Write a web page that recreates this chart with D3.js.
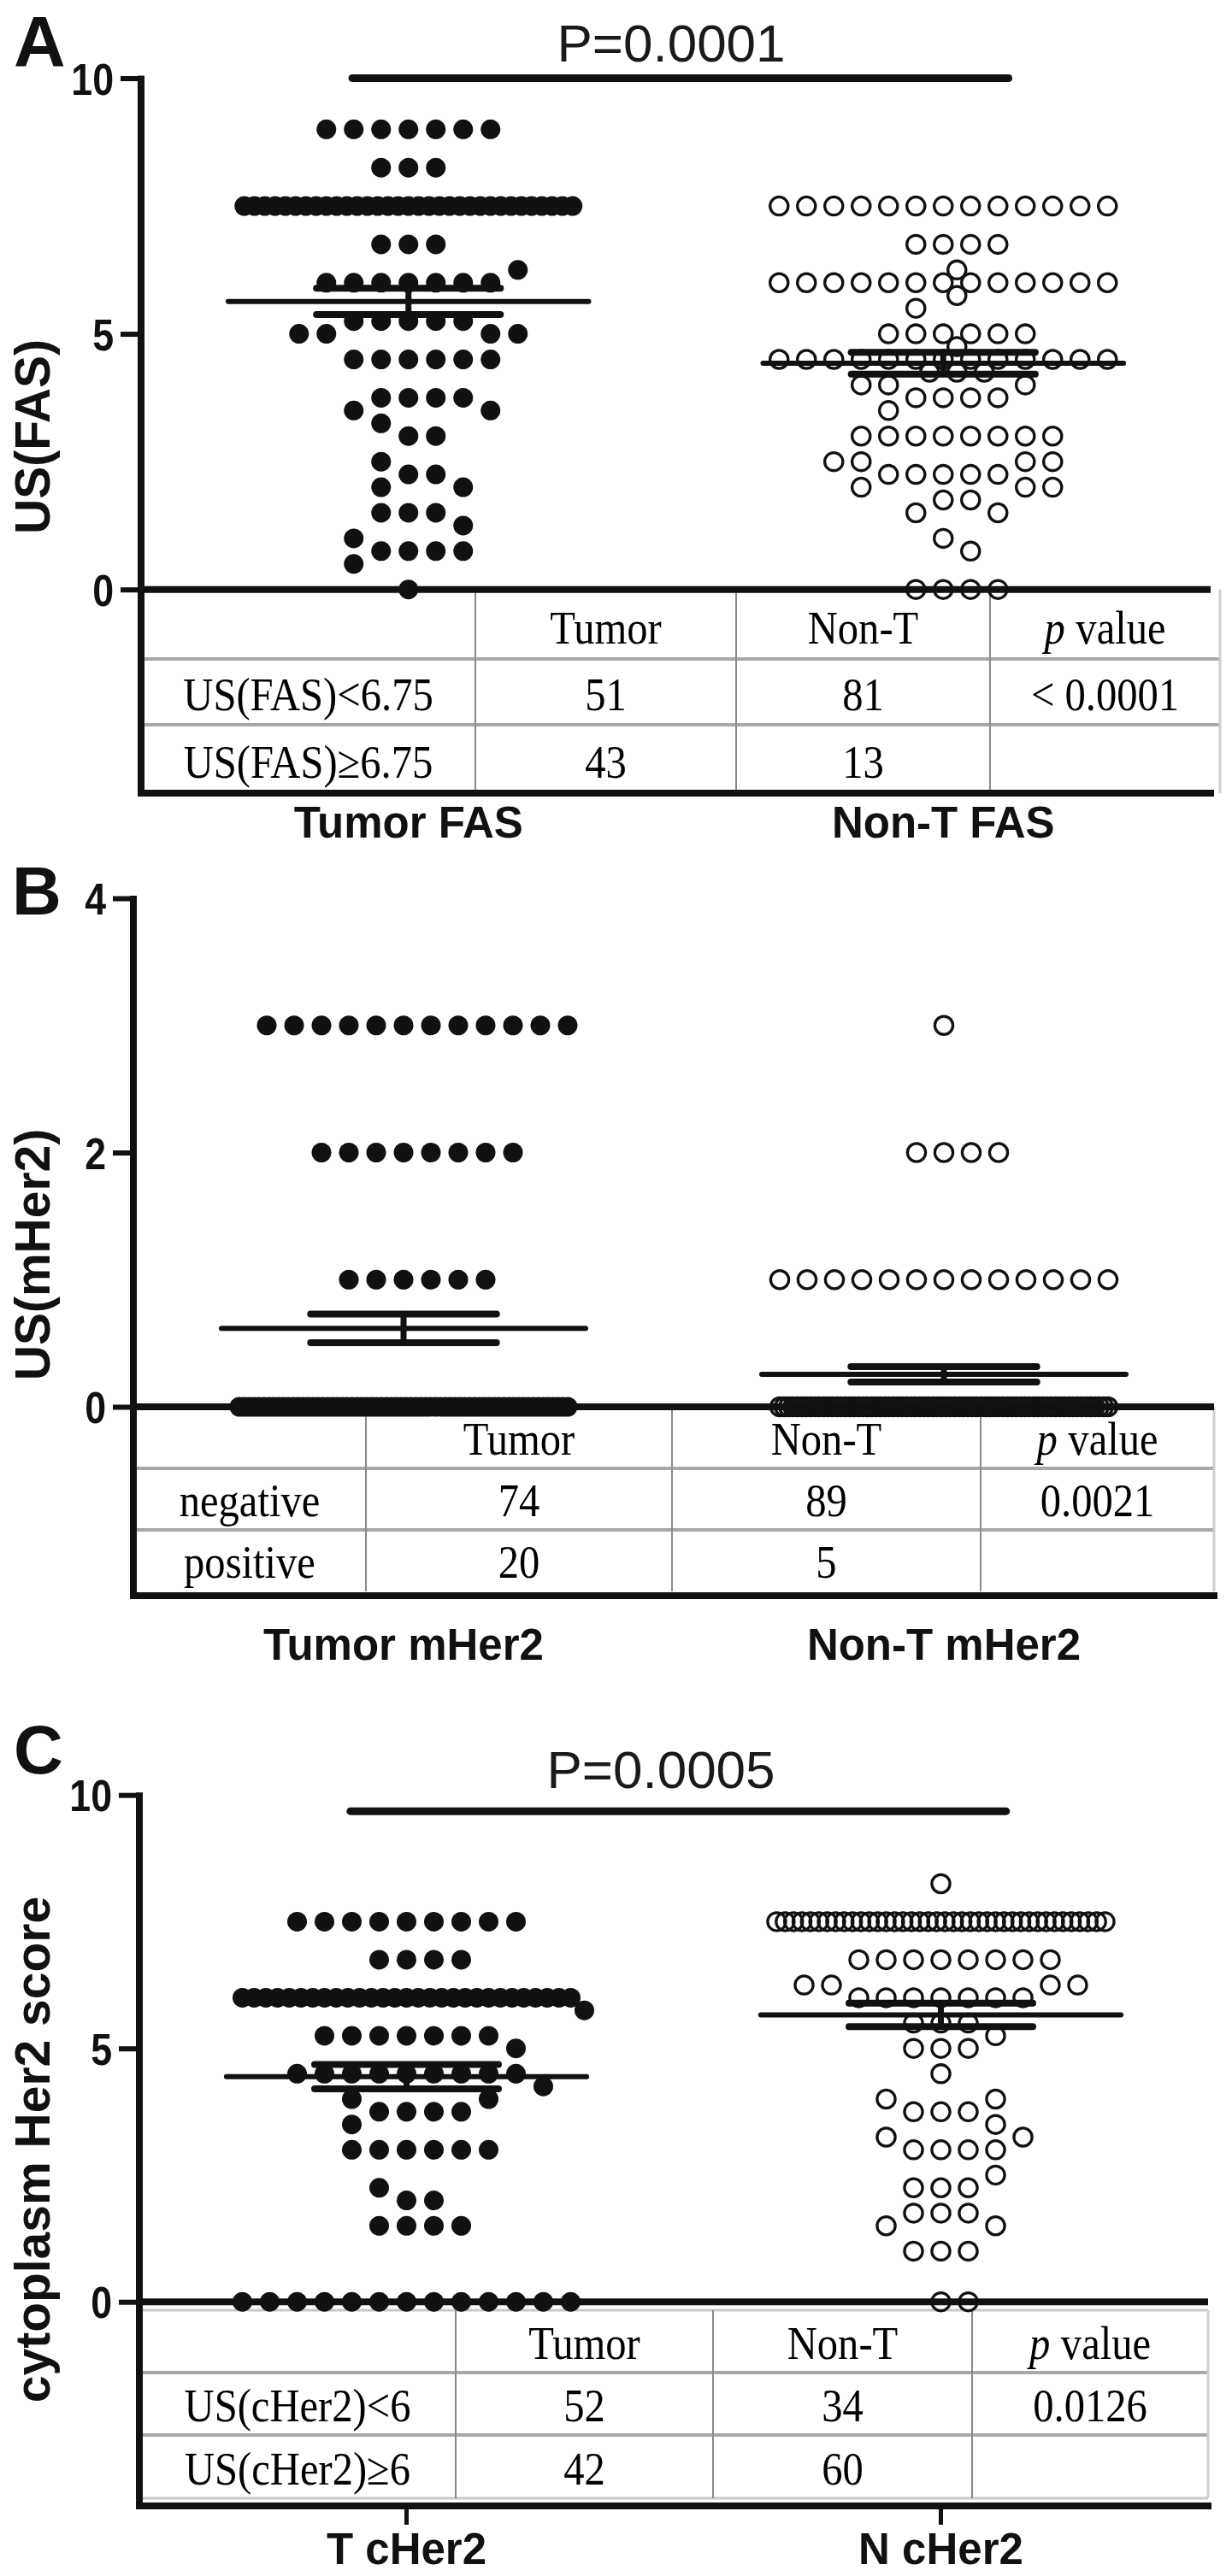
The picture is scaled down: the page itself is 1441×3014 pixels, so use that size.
<!DOCTYPE html>
<html><head><meta charset="utf-8">
<script src="https://cdn.jsdelivr.net/npm/d3@7"></script>
<style>html,body{margin:0;padding:0;background:#fff}svg{display:block}</style>
</head><body>
<svg id="chart" width="1441" height="3014"></svg>
<script>
// ---------------- DATA (value, number of samples with that value) ----------------
const categoriesA = ["Tumor FAS", "Non-T FAS"];
const tumorFAS = [[9,7],[8.25,3],[7.5,33],[6.75,3],[6.25,1],[6,7],[5.25,5],[5,4],[4.5,6],[3.75,4],[3.5,2],[3.25,1],[3,2],[2.5,1],[2.25,2],[2,2],[1.5,3],[1.25,1],[1,1],[0.75,4],[0.5,1],[0,1]];
const nonTFAS = [[7.5,13],[6.75,4],[6.25,1],[6,13],[5.75,1],[5.5,1],[5,6],[4.75,1],[4.5,13],[4.25,3],[4,3],[3.75,4],[3.5,1],[3,8],[2.5,4],[2.25,5],[2,3],[1.75,2],[1.5,2],[1,1],[0.75,1],[0,4]];
const ticksA = [0, 5, 10];
const headerA = ["", "Tumor", "Non-T", "p value"];
const rowsA = [["US(FAS)<6.75", "51", "81", "< 0.0001"], ["US(FAS)\u22656.75", "43", "13", ""]];

const categoriesB = ["Tumor mHer2", "Non-T mHer2"];
const tumorMHer2 = [[3,12],[2,8],[1,6],[0,68]];
const nonTMHer2 = [[3,1],[2,4],[1,13],[0,76]];
const ticksB = [0, 2, 4];
const headerB = ["", "Tumor", "Non-T", "p value"];
const rowsB = [["negative", "74", "89", "0.0021"], ["positive", "20", "5", ""]];

const categoriesC = ["T cHer2", "N cHer2"];
const tumorCHer2 = [[7.5,9],[6.75,4],[6,29],[5.75,1],[5.25,7],[5,1],[4.5,9],[4.25,1],[4,2],[3.75,4],[3.5,1],[3,6],[2.25,1],[2,2],[1.5,4],[0,13]];
const nonTCHer2 = [[8.25,1],[7.5,40],[6.75,8],[6.25,4],[6,7],[5.5,3],[5.25,1],[5,3],[4.5,1],[4,2],[3.75,3],[3.5,1],[3.25,2],[3,4],[2.5,1],[2.25,3],[1.75,3],[1.5,2],[1,3],[0,2]];
const ticksC = [0, 5, 10];
const headerC = ["", "Tumor", "Non-T", "p value"];
const rowsC = [["US(cHer2)<6", "52", "34", "0.0126"], ["US(cHer2)\u22656", "42", "60", ""]];

const pValueA = "P=0.0001", sigLevelA = 10;
const pValueC = "P=0.0005", sigLevelC = 9.68;

// ---------------- LAYOUT ----------------
const panels = [
  {letter:"A", letterX:16, letterY:78, letterSize:84, yDomain:[0,10], yRange:[689.7,91.5], ticks:ticksA,
   axisX:165, axisRight:1416, cats:categoriesA, groups:[tumorFAS,nonTFAS], yTitle:"US(FAS)", yTitleY:511,
   rowsY:[689.7,771,848,928], colsX:[165,556,861,1158,1427], header:headerA, body:rowsA, tableTop:false,
   bottom:928, xLabelY:980, xTicks:false, sig:{v:sigLevelA, text:pValueA, textX:785, textY:72}},
  {letter:"B", letterX:14, letterY:1070, letterSize:80, yDomain:[0,4], yRange:[1646,1051], ticks:ticksB,
   axisX:156, axisRight:1420, cats:categoriesB, groups:[tumorMHer2,nonTMHer2], yTitle:"US(mHer2)", yTitleY:1468,
   rowsY:[1646,1718,1790,1862], colsX:[156,428,786,1147,1420], header:headerB, body:rowsB, tableTop:false,
   bottom:1867, xLabelY:1942, xTicks:false, sig:null},
  {letter:"C", letterX:16, letterY:2075, letterSize:80, yDomain:[0,10], yRange:[2693.2,2100.2], ticks:ticksC,
   axisX:163, axisRight:1413, cats:categoriesC, groups:[tumorCHer2,nonTCHer2], yTitle:"cytoplasm Her2 score", yTitleY:2515,
   rowsY:[2703,2776,2849,2923], colsX:[163,533,834,1137,1413], header:headerC, body:rowsC, tableTop:true,
   bottom:2932, xLabelY:3000, xTicks:true, sig:{v:sigLevelC, text:pValueC, textX:773, textY:2092}}
];

const SANS = "'Liberation Sans', Arial, Helvetica, sans-serif";
const SERIF = "'Liberation Serif', 'Times New Roman', Times, serif";
const INK = "#111";

// beeswarm-like layout: rows of equal values, spread horizontally on a slot grid
function swarm(freq, cx, y) {
  const s = 32, maxSlots = 6, thr = 25.5;
  const rows = freq.map(([v, n]) => ({v, n})).sort((a, b) => b.n - a.n || b.v - a.v);
  const placed = [];
  const minDist = (x, py) => {
    let m = Infinity;
    for (const q of placed) { const d = Math.hypot(q.x - x, q.y - py); if (d < m) m = d; }
    return m;
  };
  for (const r of rows) {
    const py = y(r.v);
    if (r.n > 2 * maxSlots + 1) {
      const w = 2 * maxSlots * s, step = w / (r.n - 1);
      for (let i = 0; i < r.n; i++) placed.push({v: r.v, x: cx - w / 2 + i * step, y: py});
      continue;
    }
    const order = [0];
    for (let k = 1; k <= maxSlots; k++) order.push(k, -k);
    for (let i = 0; i < r.n; i++) {
      let best = null;
      for (const k of order) {
        const x = cx + k * s;
        if (minDist(x, py) >= thr) { best = x; break; }
      }
      if (best === null) {
        let bestD = -1;
        for (let k = 0; k <= 2 * maxSlots + 1; k++) {
          for (const sg of (k ? [1, -1] : [1])) {
            const x = cx + sg * k * s / 2;
            const d = minDist(x, py);
            if (d > bestD + 0.01) { bestD = d; best = x; }
          }
        }
      }
      placed.push({v: r.v, x: best, y: py});
    }
  }
  return placed;
}

const svg = d3.select("#chart");
svg.append("rect").attr("width", 1441).attr("height", 3014).attr("fill", "#fff");

panels.forEach(p => {
  const g = svg.append("g");
  const y = d3.scaleLinear().domain(p.yDomain).range(p.yRange);
  const x = d3.scalePoint().domain(p.cats).range([p.axisX, p.axisRight]).padding(0.5);
  const step = x.step();

  // ---- table ----
  const tb = g.append("g");
  const top = p.rowsY[0], bot = p.rowsY[p.rowsY.length - 1];
  if (p.tableTop) tb.append("line").attr("x1", p.axisX).attr("x2", p.colsX[4]).attr("y1", top).attr("y2", top)
      .attr("stroke", "#c8c8c8").attr("stroke-width", 3);
  [p.rowsY[1], p.rowsY[2]].forEach(ry => {
    tb.append("line").attr("x1", p.axisX).attr("x2", p.colsX[4]).attr("y1", ry).attr("y2", ry)
      .attr("stroke", "#a8a8a8").attr("stroke-width", 4);
  });
  if (p.tableTop) tb.append("line").attr("x1", p.axisX).attr("x2", p.colsX[4]).attr("y1", bot).attr("y2", bot)
      .attr("stroke", "#c8c8c8").attr("stroke-width", 3);
  p.colsX.slice(1, 4).forEach(cx => {
    tb.append("line").attr("x1", cx).attr("x2", cx).attr("y1", top).attr("y2", bot)
      .attr("stroke", "#8a8a8a").attr("stroke-width", 2);
  });
  tb.append("line").attr("x1", p.colsX[4]).attr("x2", p.colsX[4]).attr("y1", top).attr("y2", bot)
    .attr("stroke", "#cfcfcf").attr("stroke-width", 3);

  const allRows = [p.header].concat(p.body);
  allRows.forEach((row, ri) => {
    const y0 = p.rowsY[ri], y1 = p.rowsY[ri + 1];
    const by = y0 + 0.78 * (y1 - y0);
    row.forEach((txt, ci) => {
      if (!txt) return;
      const cx = (p.colsX[ci] + p.colsX[ci + 1]) / 2;
      const t = tb.append("text").attr("transform", `translate(${cx},${by}) scale(0.9,1)`)
        .attr("text-anchor", "middle").attr("font-family", SERIF).attr("font-size", 54).attr("fill", "#000");
      if (txt === "p value") {
        t.append("tspan").attr("font-style", "italic").text("p");
        t.append("tspan").attr("dx", 14).text("value");
      } else t.text(txt);
    });
  });

  // ---- axes ----
  g.append("line").attr("x1", p.axisX).attr("x2", p.axisX).attr("y1", y(p.yDomain[1]) - 3).attr("y2", p.bottom + 4)
    .attr("stroke", INK).attr("stroke-width", 8);
  g.append("line").attr("x1", p.axisX).attr("x2", p.axisRight).attr("y1", y(0)).attr("y2", y(0))
    .attr("stroke", INK).attr("stroke-width", 8);
  g.append("line").attr("x1", p.axisX).attr("x2", p.axisRight + 4).attr("y1", p.bottom).attr("y2", p.bottom)
    .attr("stroke", INK).attr("stroke-width", 8);

  const ya = g.append("g").attr("transform", `translate(${p.axisX},0)`)
    .call(d3.axisLeft(y).tickValues(p.ticks).tickSize(24).tickPadding(6).tickFormat(d3.format("d")));
  ya.select(".domain").remove();
  ya.selectAll(".tick line").attr("stroke", INK).attr("stroke-width", 6);
  ya.selectAll(".tick text").attr("fill", INK).attr("font-family", SANS).attr("font-weight", "bold")
    .attr("font-size", 52).attr("x", -32 / 0.86).attr("dy", "0.36em").attr("transform", "scale(0.86,1)");

  if (p.xTicks) {
    p.cats.forEach(c => g.append("line").attr("x1", x(c)).attr("x2", x(c)).attr("y1", p.bottom).attr("y2", p.bottom + 22)
      .attr("stroke", INK).attr("stroke-width", 5));
  }

  p.cats.forEach(c => g.append("text").attr("x", x(c)).attr("y", p.xLabelY).attr("text-anchor", "middle")
    .attr("font-family", SANS).attr("font-weight", "bold").attr("font-size", 51).attr("fill", INK).text(c));

  g.append("text").attr("transform", `translate(58,${p.yTitleY}) rotate(-90)`).attr("text-anchor", "middle")
    .attr("font-family", SANS).attr("font-weight", "bold").attr("font-size", 57).attr("fill", INK).text(p.yTitle);

  g.append("text").attr("x", p.letterX).attr("y", p.letterY).attr("font-family", SANS).attr("font-weight", "bold")
    .attr("font-size", p.letterSize).attr("fill", INK).text(p.letter);

  // ---- dots ----
  p.groups.forEach((freq, gi) => {
    const cx = x(p.cats[gi]);
    const pts = swarm(freq, cx, y);
    const sel = g.append("g").selectAll("circle").data(pts).join("circle")
      .attr("cx", d => d.x).attr("cy", d => y(d.v));
    if (gi === 0) sel.attr("r", 11.5).attr("fill", INK);
    else sel.attr("r", 10.6).attr("fill", "none").attr("stroke", INK).attr("stroke-width", 3.3);

    // mean and SEM
    const vals = [];
    freq.forEach(([v, n]) => { for (let i = 0; i < n; i++) vals.push(v); });
    const m = d3.mean(vals), sem = d3.deviation(vals) / Math.sqrt(vals.length);
    const mh = 0.337 * step, sh = 0.172 * step;
    const lg = g.append("g").attr("stroke", INK).attr("stroke-linecap", "round");
    lg.append("line").attr("x1", cx - mh).attr("x2", cx + mh).attr("y1", y(m)).attr("y2", y(m)).attr("stroke-width", 6);
    [m - sem, m + sem].forEach(v => lg.append("line").attr("x1", cx - sh).attr("x2", cx + sh)
      .attr("y1", y(v)).attr("y2", y(v)).attr("stroke-width", 8));
    lg.append("line").attr("x1", cx).attr("x2", cx).attr("y1", y(m - sem)).attr("y2", y(m + sem)).attr("stroke-width", 7);
  });

  // ---- significance ----
  if (p.sig) {
    const x1 = x(p.cats[0]) - 0.105 * step, x2 = x(p.cats[1]) + 0.122 * step;
    g.append("line").attr("x1", x1).attr("x2", x2).attr("y1", y(p.sig.v)).attr("y2", y(p.sig.v))
      .attr("stroke", INK).attr("stroke-width", 9).attr("stroke-linecap", "round");
    g.append("text").attr("x", p.sig.textX).attr("y", p.sig.textY).attr("text-anchor", "middle")
      .attr("font-family", SANS).attr("font-size", 62).attr("fill", "#1a1a1a").text(p.sig.text);
  }
});
</script>
</body></html>
